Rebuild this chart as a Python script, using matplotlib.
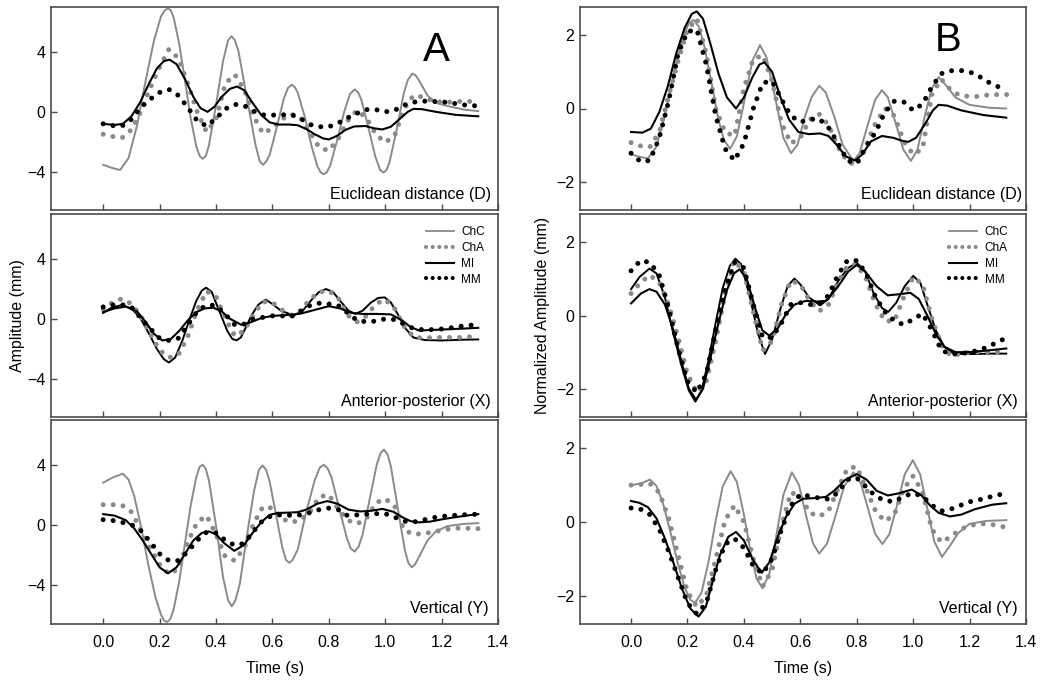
import numpy as np
import matplotlib
matplotlib.use("Agg")
import matplotlib.pyplot as plt
from matplotlib.lines import Line2D

plt.rcParams['font.family'] = ['Liberation Sans', 'DejaVu Sans']

# ---------------- data ----------------
SERIES = ["ChC", "ChA", "MI", "MM"]
TIME_TICKS = [0.0, 0.2, 0.4, 0.6, 0.8, 1.0, 1.2, 1.4]
TIME_TICK_LABELS = ["0.0", "0.2", "0.4", "0.6", "0.8", "1.0", "1.2", "1.4"]
A_YTICKS = [-4, 0, 4]
B_YTICKS = [-2, 0, 2]
PANEL_NAMES = ["Euclidean distance (D)", "Anterior-posterior (X)", "Vertical (Y)"]
DOT_T = np.arange(41) / 30.0   # sampling times of the dotted series (s)

# ----- Panel A, Euclidean distance -----
A_D_ChC = [(0, -3.55), (0.03, -3.75), (0.06, -3.9), (0.09, -3.1), (0.12, -0.92), (0.15, 2.03),
           (0.18, 4.77), (0.205, 6.4), (0.218, 6.8), (0.23, 6.95), (0.24, 6.8), (0.25, 6.32), (0.27, 4.53),
           (0.29, 2.1), (0.31, -0.39), (0.33, -2.3), (0.342, -2.95), (0.353, -3.15), (0.364, -2.95),
           (0.375, -2.25), (0.40, 0.45), (0.425, 3.4), (0.443, 4.8), (0.455, 5.07), (0.467, 4.8),
           (0.48, 4.05), (0.51, 0.9), (0.54, -2.2), (0.555, -3.3), (0.567, -3.55), (0.579, -3.3),
           (0.59, -2.9), (0.615, -1.08), (0.64, 0.85), (0.655, 1.6), (0.668, 1.82), (0.68, 1.65),
           (0.69, 1.28), (0.715, -0.34), (0.74, -2.38), (0.76, -3.67), (0.771, -4.05), (0.782, -4.18),
           (0.793, -4.05), (0.805, -3.6), (0.83, -1.88), (0.855, 0.03), (0.875, 1.2), (0.892, 1.51),
           (0.904, 1.3), (0.915, 0.84), (0.94, -1.02), (0.965, -3.0), (0.982, -3.9), (0.994, -4.07),
           (1.005, -3.9), (1.015, -3.4), (1.04, -1.27), (1.065, 1.17), (1.08, 2.13), (1.096, 2.56),
           (1.108, 2.45), (1.12, 2.1), (1.15, 1.1), (1.18, 0.6), (1.23, 0.35), (1.28, 0.15), (1.33, 0.05)]
A_D_MI = [(0, -0.8), (0.04, -0.88), (0.07, -0.8), (0.1, -0.3), (0.13, 0.6), (0.16, 1.8), (0.19, 2.9),
          (0.215, 3.4), (0.235, 3.5), (0.26, 3.2), (0.29, 2.2), (0.32, 1.0), (0.345, 0.25), (0.37, 0.0),
          (0.395, 0.35), (0.42, 1.0), (0.45, 1.55), (0.475, 1.7), (0.5, 1.45), (0.53, 0.6), (0.56, -0.2),
          (0.59, -0.7), (0.62, -0.85), (0.66, -0.85), (0.69, -0.9), (0.72, -1.15), (0.75, -1.5),
          (0.78, -1.78), (0.8, -1.85), (0.83, -1.6), (0.86, -1.2), (0.89, -0.98), (0.93, -0.95),
          (0.96, -1.1), (0.99, -1.18), (1.02, -1.0), (1.05, -0.5), (1.08, 0.0), (1.1, 0.2), (1.13, 0.18),
          (1.18, 0.0), (1.25, -0.2), (1.33, -0.3)]
A_D_ChA = [-1.5, -1.65, -1.75, -1.2, 0.0, 1.6, 3.0, 4.2, 3.6, 1.9, 0.0, -1.35, -0.5, 1.9, 2.5, 1.5,
           -0.3, -1.45, -1.1, -0.5, -0.15, -0.4, -1.4, -2.4, -2.6, -1.8, -0.6, 0.1, -0.4, -1.5, -2.05,
           -1.6, 0.2, 1.1, 1.0, 0.75, 0.65, 0.65, 0.7, 0.7, 0.7]
A_D_MM = [-0.8, -0.92, -0.95, -0.5, 0.3, 0.85, 1.3, 1.5, 1.1, 0.3, -0.6, -0.95, -0.45, 0.2, 0.5, 0.42,
          0.05, -0.2, -0.22, -0.2, -0.18, -0.45, -0.85, -1.0, -1.0, -0.75, -0.4, -0.1, 0.15, 0.15, 0.0,
          0.1, 0.45, 0.65, 0.72, 0.7, 0.68, 0.6, 0.5, 0.42, 0.4]

# ----- Panel A, Anterior-posterior -----
A_X_ChC = [(0, 0.4), (0.03, 0.75), (0.065, 0.92), (0.1, 0.7), (0.13, 0.1), (0.16, -0.9), (0.19, -2.0),
           (0.215, -2.7), (0.233, -2.93), (0.255, -2.6), (0.28, -1.5), (0.305, -0.1), (0.33, 1.2),
           (0.35, 1.9), (0.365, 2.09), (0.385, 1.8), (0.41, 0.6), (0.44, -0.8), (0.458, -1.35),
           (0.473, -1.44), (0.488, -1.25), (0.5, -0.8), (0.525, 0.2), (0.55, 0.95), (0.576, 1.29),
           (0.6, 1.0), (0.63, 0.55), (0.676, 0.22), (0.71, 0.6), (0.74, 1.3), (0.765, 1.8), (0.79, 2.0),
           (0.815, 1.8), (0.845, 1.1), (0.87, 0.55), (0.894, 0.33), (0.92, 0.55), (0.95, 1.1),
           (0.975, 1.4), (0.998, 1.44), (1.02, 1.1), (1.045, 0.3), (1.07, -0.6), (1.1, -1.25),
           (1.14, -1.42), (1.2, -1.45), (1.27, -1.4), (1.33, -1.38)]
A_X_MI = [(0, 0.45), (0.04, 0.7), (0.08, 0.82), (0.12, 0.5), (0.15, -0.2), (0.18, -1.0), (0.21, -1.45),
          (0.24, -1.35), (0.27, -0.8), (0.3, -0.1), (0.33, 0.45), (0.36, 0.7), (0.39, 0.75), (0.42, 0.5),
          (0.45, 0.0), (0.49, -0.4), (0.52, -0.25), (0.56, 0.05), (0.6, 0.2), (0.65, 0.25), (0.7, 0.35),
          (0.75, 0.6), (0.8, 0.85), (0.84, 0.7), (0.88, 0.4), (0.92, 0.33), (0.97, 0.33), (1.02, 0.3),
          (1.06, -0.1), (1.09, -0.55), (1.12, -0.78), (1.16, -0.75), (1.22, -0.7), (1.28, -0.65),
          (1.33, -0.6)]
A_X_ChA = [0.65, 1.1, 1.35, 1.0, 0.2, -1.0, -2.1, -2.6, -2.4, -1.2, 0.6, 1.85, 1.5, 0.0, -1.15, -0.8,
           0.3, 1.15, 1.1, 0.6, 0.25, 0.55, 1.3, 1.8, 1.9, 1.4, 0.25, -0.2, 0.2, 1.0, 1.3, 0.7, -0.5,
           -1.2, -1.3, -1.25, -1.25, -1.25, -1.25, -1.2, -1.25]
A_X_MM = [0.8, 0.93, 0.95, 0.8, 0.05, -0.65, -1.3, -1.45, -1.3, -0.4, 0.5, 0.93, 0.9, 0.3, -0.4, -0.35,
          0.0, 0.1, 0.2, 0.2, 0.15, 0.5, 0.9, 1.05, 1.0, 0.9, 0.4, -0.1, -0.2, -0.15, 0.0, -0.05, -0.35,
          -0.65, -0.73, -0.72, -0.68, -0.6, -0.5, -0.42, -0.45]

# ----- Panel A, Vertical -----
A_Y_ChC = [(0, 2.85), (0.035, 3.2), (0.07, 3.45), (0.09, 3.05), (0.11, 1.97), (0.135, -0.16),
           (0.16, -2.63), (0.185, -4.77), (0.205, -5.96), (0.216, -6.35), (0.227, -6.45), (0.238, -6.25),
           (0.25, -5.6), (0.27, -3.7), (0.29, -1.2), (0.31, 1.3), (0.33, 3.2), (0.342, 3.9), (0.353, 4.05),
           (0.364, 3.75), (0.375, 3.0), (0.4, 0.0), (0.425, -3.45), (0.443, -5.0), (0.456, -5.4),
           (0.469, -5.0), (0.485, -3.85), (0.51, -0.63), (0.535, 2.3), (0.552, 3.7), (0.565, 4.0),
           (0.578, 3.7), (0.59, 2.95), (0.612, 0.8), (0.635, -1.45), (0.648, -2.3), (0.66, -2.5),
           (0.672, -2.3), (0.69, -1.6), (0.72, 0.9), (0.75, 3.0), (0.768, 3.85), (0.782, 4.05),
           (0.796, 3.8), (0.81, 3.18), (0.84, 0.9), (0.865, -0.9), (0.878, -1.55), (0.892, -1.75),
           (0.906, -1.4), (0.92, -0.6), (0.945, 1.75), (0.97, 4.05), (0.984, 4.85), (0.996, 5.05),
           (1.008, 4.75), (1.02, 3.95), (1.045, 1.1), (1.07, -1.67), (1.082, -2.5), (1.094, -2.8),
           (1.106, -2.6), (1.12, -2.1), (1.15, -1.0), (1.18, -0.4), (1.22, -0.05), (1.28, 0.1),
           (1.33, 0.15)]
A_Y_MI = [(0, 0.75), (0.04, 0.65), (0.08, 0.35), (0.11, -0.2), (0.14, -1.0), (0.17, -1.9), (0.2, -2.8),
          (0.23, -3.2), (0.26, -2.8), (0.29, -1.9), (0.32, -1.0), (0.35, -0.5), (0.375, -0.4), (0.4, -0.6),
          (0.43, -1.2), (0.465, -1.7), (0.5, -1.3), (0.53, -0.5), (0.56, 0.2), (0.59, 0.7), (0.62, 0.83),
          (0.66, 0.85), (0.69, 0.88), (0.72, 1.05), (0.76, 1.45), (0.795, 1.62), (0.83, 1.45),
          (0.87, 1.05), (0.91, 0.93), (0.95, 0.97), (0.99, 1.1), (1.03, 0.9), (1.06, 0.55), (1.09, 0.28),
          (1.12, 0.2), (1.16, 0.25), (1.2, 0.4), (1.25, 0.55), (1.3, 0.68), (1.33, 0.75)]
A_Y_ChA = [1.38, 1.38, 1.35, 0.9, -0.3, -1.5, -2.6, -3.25, -2.9, -1.1, 0.2, 0.65, -0.6, -2.1, -2.35,
           -1.5, 0.1, 1.25, 1.15, 0.45, 0.2, 0.35, 0.9, 1.9, 2.05, 1.1, 0.35, 0.1, 0.45, 1.5, 1.78, 1.3,
           -0.3, -0.6, -0.55, -0.45, -0.33, -0.22, -0.18, -0.2, -0.22]
A_Y_MM = [0.38, 0.33, 0.2, 0.05, -0.35, -1.1, -1.9, -2.35, -2.35, -1.75, -1.0, -0.45, -0.5, -1.0, -1.33,
          -1.2, -0.4, 0.35, 0.67, 0.7, 0.67, 0.7, 0.85, 1.05, 1.15, 1.05, 0.65, 0.7, 0.75, 0.78, 0.78,
          0.55, 0.28, 0.22, 0.35, 0.5, 0.6, 0.65, 0.7, 0.72, 0.75]

# ----- Panel B, Euclidean distance -----
B_D_ChC = [(0, -1.25), (0.03, -1.32), (0.06, -1.36), (0.09, -1.04), (0.12, -0.19), (0.15, 0.89),
           (0.18, 1.87), (0.205, 2.33), (0.221, 2.42), (0.24, 2.24), (0.26, 1.69), (0.285, 0.71),
           (0.31, -0.31), (0.33, -0.87), (0.351, -1.1), (0.375, -0.76), (0.4, 0.14), (0.43, 1.3),
           (0.457, 1.73), (0.48, 1.4), (0.51, 0.33), (0.54, -0.8), (0.567, -1.22), (0.59, -0.99),
           (0.615, -0.25), (0.64, 0.31), (0.667, 0.62), (0.69, 0.44), (0.72, -0.21), (0.75, -0.99),
           (0.788, -1.43), (0.81, -1.22), (0.84, -0.42), (0.865, 0.23), (0.889, 0.5), (0.91, 0.31),
           (0.94, -0.45), (0.965, -1.12), (0.992, -1.43), (1.015, -1.13), (1.04, -0.25), (1.065, 0.52),
           (1.09, 0.86), (1.12, 0.6), (1.15, 0.3), (1.2, 0.1), (1.27, 0.02), (1.33, 0.0)]
B_D_MI = [(0, -0.64), (0.04, -0.66), (0.07, -0.55), (0.1, -0.1), (0.13, 0.6), (0.16, 1.5), (0.19, 2.2),
          (0.215, 2.58), (0.233, 2.65), (0.255, 2.45), (0.28, 1.8), (0.31, 0.95), (0.34, 0.3),
          (0.372, 0.0), (0.4, 0.3), (0.43, 0.85), (0.455, 1.2), (0.473, 1.26), (0.5, 1.0), (0.53, 0.3),
          (0.56, -0.3), (0.593, -0.64), (0.63, -0.7), (0.67, -0.68), (0.7, -0.75), (0.73, -1.0),
          (0.76, -1.3), (0.794, -1.42), (0.82, -1.25), (0.85, -0.9), (0.889, -0.75), (0.93, -0.8),
          (0.96, -0.88), (0.983, -0.91), (1.01, -0.8), (1.04, -0.45), (1.07, -0.05), (1.09, 0.1),
          (1.12, 0.08), (1.17, -0.05), (1.25, -0.18), (1.33, -0.25)]
B_D_ChA = [-0.93, -1.02, -1.05, -0.65, 0.35, 1.3, 2.15, 2.45, 1.5, 0.0, -0.65, -0.75, 0.55, 1.35, 1.45,
           0.75, -0.4, -0.95, -0.8, -0.3, -0.15, -0.45, -1.05, -1.45, -1.55, -1.0, -0.4, 0.0, -0.2, -0.9,
           -1.25, -1.1, 0.4, 0.8, 0.5, 0.35, 0.33, 0.33, 0.37, 0.38, 0.38]
B_D_MM = [-1.22, -1.45, -1.42, -0.8, 0.2, 1.5, 2.1, 2.15, 1.2, -0.2, -1.1, -1.42, -0.95, 0.0, 0.7, 0.75,
          0.25, -0.2, -0.37, -0.3, -0.28, -0.52, -0.95, -1.42, -1.5, -1.05, -0.65, -0.1, 0.2, 0.18, -0.05,
          0.12, 0.6, 0.95, 1.03, 1.04, 1.0, 0.88, 0.72, 0.6, 0.56]

# ----- Panel B, Anterior-posterior -----
B_X_ChC = [(0, 0.72), (0.03, 1.05), (0.065, 1.28), (0.09, 1.15), (0.12, 0.5), (0.15, -0.5), (0.18, -1.4),
           (0.205, -2.05), (0.228, -2.35), (0.25, -2.05), (0.275, -1.2), (0.3, -0.2), (0.325, 0.75),
           (0.35, 1.35), (0.37, 1.55), (0.39, 1.4), (0.42, 0.55), (0.45, -0.5), (0.475, -1.05),
           (0.5, -0.65), (0.53, 0.2), (0.555, 0.8), (0.579, 1.01), (0.6, 0.85), (0.63, 0.5), (0.67, 0.28),
           (0.7, 0.45), (0.735, 0.95), (0.77, 1.3), (0.8, 1.44), (0.83, 1.2), (0.86, 0.6), (0.89, 0.2),
           (0.912, 0.1), (0.94, 0.35), (0.97, 0.8), (1.0, 1.08), (1.025, 0.9), (1.05, 0.3), (1.08, -0.4),
           (1.11, -0.85), (1.14, -1.02), (1.17, -1.05), (1.22, -1.05), (1.28, -1.04), (1.33, -1.04)]
B_X_MI = [(0, 0.33), (0.035, 0.6), (0.065, 0.72), (0.09, 0.65), (0.12, 0.3), (0.15, -0.4), (0.18, -1.3),
          (0.205, -2.0), (0.23, -2.3), (0.255, -2.0), (0.28, -1.2), (0.31, -0.2), (0.34, 0.7),
          (0.365, 1.15), (0.385, 1.26), (0.41, 1.0), (0.44, 0.2), (0.465, -0.4), (0.49, -0.55),
          (0.52, -0.35), (0.55, 0.05), (0.58, 0.3), (0.62, 0.4), (0.66, 0.38), (0.69, 0.4), (0.73, 0.75),
          (0.77, 1.2), (0.8, 1.38), (0.83, 1.2), (0.87, 0.8), (0.91, 0.55), (0.95, 0.58), (0.99, 0.62),
          (1.02, 0.45), (1.05, 0.0), (1.08, -0.5), (1.11, -0.85), (1.15, -1.0), (1.2, -1.0),
          (1.27, -0.95), (1.33, -0.9)]
B_X_ChA = [0.6, 0.9, 1.1, 0.9, 0.3, -0.6, -1.6, -2.1, -1.8, -0.7, 0.6, 1.5, 1.2, 0.1, -0.95, -0.7, 0.3,
           0.95, 0.85, 0.4, 0.12, 0.3, 0.9, 1.35, 1.4, 1.0, 0.3, -0.15, -0.15, 0.5, 1.05, 0.85, -0.1, -0.8,
           -1.1, -1.05, -1.0, -1.0, -1.0, -1.0, -1.0]
B_X_MM = [1.22, 1.5, 1.45, 1.1, 0.2, -0.9, -1.8, -2.1, -1.6, -0.4, 0.7, 1.45, 1.3, 0.3, -0.6, -0.6, -0.2,
          0.3, 0.35, 0.3, 0.3, 0.55, 1.1, 1.5, 1.5, 1.15, 0.5, 0.1, -0.15, -0.25, -0.1, 0.05, -0.4, -0.95,
          -1.05, -1.05, -1.0, -0.95, -0.85, -0.72, -0.6]

# ----- Panel B, Vertical -----
B_Y_ChC = [(0, 1.0), (0.035, 1.05), (0.067, 1.15), (0.09, 0.98), (0.115, 0.46), (0.14, -0.29),
           (0.165, -1.1), (0.19, -1.78), (0.21, -2.11), (0.227, -2.2), (0.25, -1.91), (0.275, -1.07),
           (0.3, 0.04), (0.325, 0.97), (0.353, 1.38), (0.375, 1.09), (0.4, 0.2), (0.425, -0.86),
           (0.445, -1.54), (0.466, -1.8), (0.49, -1.41), (0.515, -0.37), (0.54, 0.74), (0.57, 1.35),
           (0.595, 1.01), (0.62, 0.19), (0.645, -0.58), (0.667, -0.86), (0.695, -0.58), (0.725, 0.18),
           (0.755, 0.96), (0.788, 1.35), (0.815, 1.04), (0.84, 0.36), (0.865, -0.32), (0.891, -0.6),
           (0.915, -0.34), (0.94, 0.37), (0.97, 1.29), (0.999, 1.68), (1.025, 1.29), (1.05, 0.38),
           (1.075, -0.53), (1.102, -0.95), (1.13, -0.65), (1.16, -0.3), (1.2, -0.05), (1.26, 0.03),
           (1.33, 0.05)]
B_Y_MI = [(0, 0.57), (0.03, 0.52), (0.06, 0.4), (0.09, 0.1), (0.12, -0.45), (0.15, -1.1), (0.18, -1.8),
          (0.21, -2.35), (0.239, -2.57), (0.265, -2.3), (0.29, -1.6), (0.315, -0.9), (0.345, -0.4),
          (0.372, -0.27), (0.4, -0.5), (0.43, -1.0), (0.463, -1.38), (0.49, -1.1), (0.52, -0.4),
          (0.55, 0.15), (0.58, 0.5), (0.61, 0.63), (0.65, 0.65), (0.69, 0.68), (0.72, 0.85), (0.76, 1.15),
          (0.8, 1.3), (0.835, 1.15), (0.87, 0.85), (0.91, 0.72), (0.95, 0.78), (0.995, 0.88),
          (1.03, 0.72), (1.06, 0.45), (1.09, 0.25), (1.13, 0.15), (1.17, 0.2), (1.22, 0.35), (1.28, 0.47),
          (1.33, 0.51)]
B_Y_ChA = [1.0, 1.02, 1.05, 0.8, 0.1, -0.9, -1.9, -2.3, -2.0, -1.0, 0.05, 0.45, 0.0, -1.0, -1.75, -1.3,
           -0.1, 0.8, 0.7, 0.25, 0.15, 0.3, 0.9, 1.45, 1.5, 0.9, 0.3, 0.02, 0.2, 0.9, 1.25, 0.8, -0.2,
           -0.55, -0.4, -0.2, -0.1, -0.05, -0.05, -0.1, -0.15]
B_Y_MM = [0.38, 0.35, 0.2, -0.2, -0.8, -1.5, -2.2, -2.5, -2.2, -1.3, -0.6, -0.45, -0.7, -1.2, -1.4, -1.0,
          -0.2, 0.45, 0.75, 0.7, 0.65, 0.62, 0.8, 1.15, 1.2, 0.95, 0.7, 0.58, 0.55, 0.7, 0.78, 0.7, 0.45,
          0.3, 0.35, 0.45, 0.55, 0.6, 0.67, 0.73, 0.8]

# ---------------- styling ----------------
GRAY = "#8a8a8a"
BLACK = "#000000"
FRAME = "#4a4a4a"
DOT_LW = 3.6
DOT_STYLE = (0, (0.001, 2.0))

fig = plt.figure(figsize=(10.5, 6.84), dpi=100)
W, H = 1050.0, 684.0
col_left = [51 / W, 580 / W]
col_width = [447 / W, 446 / W]
row_top_px = [7, 214, 420]
row_bot_px = [210, 417, 624]

panels = {
    (0, 0): (A_D_ChC, A_D_ChA, A_D_MI, A_D_MM),
    (0, 1): (A_X_ChC, A_X_ChA, A_X_MI, A_X_MM),
    (0, 2): (A_Y_ChC, A_Y_ChA, A_Y_MI, A_Y_MM),
    (1, 0): (B_D_ChC, B_D_ChA, B_D_MI, B_D_MM),
    (1, 1): (B_X_ChC, B_X_ChA, B_X_MI, B_X_MM),
    (1, 2): (B_Y_ChC, B_Y_ChA, B_Y_MI, B_Y_MM),
}

name_x = {0: [0.984, 0.984, 0.978], 1: [0.991, 0.982, 0.982]}

for (col, row), (chc, cha, mi, mm) in panels.items():
    top, bot = row_top_px[row], row_bot_px[row]
    ax = fig.add_axes([col_left[col], 1 - bot / H, col_width[col], (bot - top) / H])
    chc_color = BLACK if row == 1 else GRAY
    t, v = zip(*chc)
    ax.plot(t, v, color=chc_color, lw=1.4, solid_joinstyle="round", zorder=2)
    ax.plot(DOT_T, cha, color=GRAY, lw=DOT_LW, linestyle=DOT_STYLE,
            dash_capstyle="round", zorder=3)
    t, v = zip(*mi)
    ax.plot(t, v, color=BLACK, lw=1.5, solid_joinstyle="round", zorder=4)
    ax.plot(DOT_T, mm, color=BLACK, lw=DOT_LW, linestyle=DOT_STYLE,
            dash_capstyle="round", zorder=5)

    if col == 0:
        ax.set_xlim(-0.185, 1.395)
        ax.set_ylim(-6.58, 7.03)
        ax.set_yticks(A_YTICKS)
    else:
        ax.set_xlim(-0.181, 1.40)
        ax.set_ylim(-2.77, 2.77)
        ax.set_yticks(B_YTICKS)
    ax.set_xticks(TIME_TICKS)
    if row == 2:
        ax.set_xticklabels(TIME_TICK_LABELS)
    else:
        ax.set_xticklabels([])
    ax.tick_params(axis="both", direction="in", length=4.5, width=1.0, color=FRAME,
                   labelsize=11.5, top=False, right=False)
    ax.tick_params(axis="x", pad=8)
    ax.tick_params(axis="y", pad=4)
    for s in ax.spines.values():
        s.set_color(FRAME)
        s.set_linewidth(1.2)

    ax.text(name_x[col][row], 0.055, PANEL_NAMES[row], transform=ax.transAxes,
            ha="right", va="baseline", fontsize=11.5)

    if row == 0:
        if col == 0:
            ax.text(0.863, 0.789, "A", transform=ax.transAxes, ha="center", va="center", fontsize=29)
        else:
            ax.text(0.825, 0.838, "B", transform=ax.transAxes, ha="center", va="center", fontsize=29)

    if row == 1:
        handles = [
            Line2D([], [], color=GRAY, lw=1.3),
            Line2D([], [], color=GRAY, lw=3.0, linestyle=(0, (0.001, 1.6)), dash_capstyle="round"),
            Line2D([], [], color=BLACK, lw=1.5),
            Line2D([], [], color=BLACK, lw=3.0, linestyle=(0, (0.001, 1.6)), dash_capstyle="round"),
        ]
        bx = 0.971 if col == 0 else 0.96
        ax.legend(handles, SERIES, loc="upper right", bbox_to_anchor=(bx, 0.94),
                  frameon=False, fontsize=8.5, handlelength=2.4, handletextpad=0.6,
                  labelspacing=0.32, borderpad=0, borderaxespad=0)

fig.text(18 / W, 1 - 316 / H, "Amplitude (mm)", rotation=90, ha="center", va="center", fontsize=11.5)
fig.text(543 / W, 1 - 315 / H, "Normalized Amplitude (mm)", rotation=90, ha="center", va="center",
         fontsize=11.5)
fig.text(275 / W, 1 - 668 / H, "Time (s)", ha="center", va="center", fontsize=11.5)
fig.text(803 / W, 1 - 668 / H, "Time (s)", ha="center", va="center", fontsize=11.5)

fig.savefig("out.png", dpi=100)
